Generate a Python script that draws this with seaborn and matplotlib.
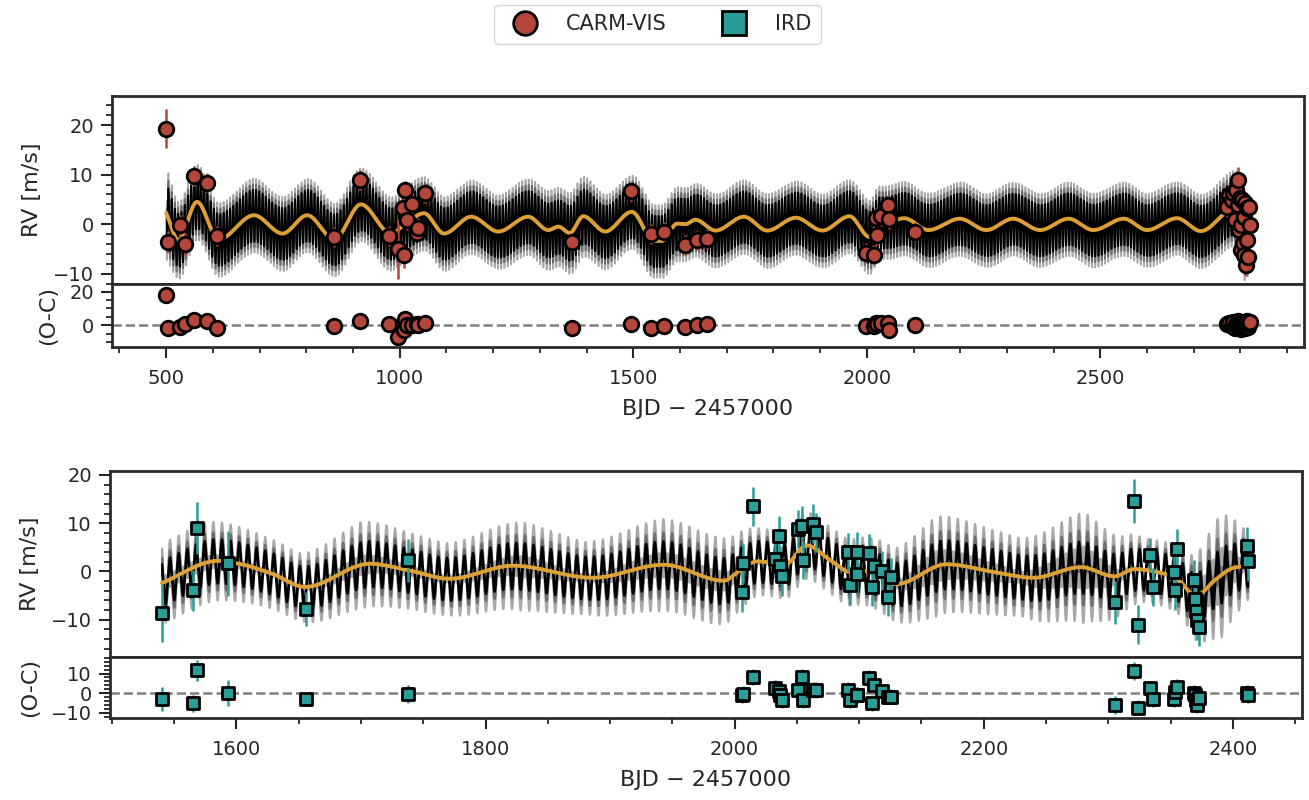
import numpy as np
import matplotlib
matplotlib.use("Agg")
import matplotlib.pyplot as plt
import seaborn as sns
from matplotlib.lines import Line2D
from matplotlib.ticker import MultipleLocator

carm_t = [500, 503, 529, 541, 559, 587, 609, 860, 915, 978, 997, 1006, 1010, 1012,
          1016, 1026, 1036, 1039, 1054, 1368, 1495, 1538, 1565, 1610, 1637, 1658,
          1998, 2016, 2020, 2021, 2030, 2045, 2048, 2104,
          2772, 2776, 2781, 2785, 2788, 2791, 2794, 2794, 2797, 2798, 2801, 2802,
          2804, 2805, 2807, 2808, 2810, 2811, 2813, 2815, 2816, 2818, 2820]
carm_rv = [19.3, -3.6, -0.2, -4.0, 9.7, 8.4, -2.4, -2.6, 8.9, -2.4, -5.0, 3.3, -6.3, 6.8,
           0.8, 4.0, -1.7, -0.7, 6.3, -3.7, 6.6, -2.0, -1.5, -4.2, -3.3, -3.0,
           -5.8, -6.2, 1.3, -2.2, 1.6, 3.8, 1.0, -1.5,
           3.5, 5.9, 4.8, 6.2, 0.8, 6.9, 9.0, 3.8, -1.2, 5.2, -0.2, -5.3,
           4.8, -3.9, 1.5, -6.3, 4.2, -8.3, -3.2, 3.2, -6.6, 3.5, -0.2]
carm_err = [4.0, 2.2, 2.0, 2.2, 2.0, 2.0, 2.0, 2.0, 2.0, 2.0, 6.0, 2.2, 2.5, 2.0,
            2.0, 2.0, 2.0, 2.0, 2.0, 1.8, 2.0, 2.0, 2.0, 2.0, 2.0, 2.0,
            2.0, 2.0, 2.0, 2.0, 2.0, 2.0, 2.0, 2.0,
            2.0, 2.2, 2.0, 2.0, 2.0, 2.0, 2.5, 2.0, 2.0, 2.0, 2.0, 2.0,
            2.0, 2.0, 2.0, 2.0, 2.0, 2.2, 2.0, 2.0, 2.0, 2.0, 2.0]
carm_res = [18.0, -1.8, -1.0, 1.0, 3.4, 2.6, -1.4, -0.6, 2.6, 1.0, -7.0, 1.0, -3.0, 4.0,
            0.0, 0.0, 1.0, 0.0, 1.4, -1.4, 1.0, -1.4, -0.6, -1.0, 0.4, 0.6,
            -0.6, -0.6, 1.4, 0.5, 1.4, 1.4, -3.0, 0.0,
            0.8, 1.5, -0.5, 2.0, -1.5, 1.0, 2.5, -1.0, 0.5, 0.0, -2.0, 1.5,
            1.2, -1.0, 2.2, 0.3, -1.8, -0.8, 1.7, 2.5, -1.2, 0.8, 2.0]

ird_t = [1540, 1565, 1568, 1593, 1656, 1738, 2005.7, 2007, 2015, 2032.5, 2036, 2036.5,
         2038, 2051, 2054, 2055, 2063, 2065, 2091, 2093, 2098, 2098.5, 2107.5, 2110,
         2111.5, 2118, 2123.5, 2125.5, 2305, 2321, 2324, 2333.5, 2336, 2353, 2353.5,
         2355, 2369, 2369.5, 2370, 2371.5, 2372.7, 2411, 2412]
ird_rv = [-8.6, -3.9, 9.0, 1.7, -7.7, 2.3, -4.3, 1.7, 13.5, 2.6, 7.4, 1.2,
          -1.0, 8.8, 9.5, 2.4, 9.9, 8.1, 4.0, -2.9, 4.1, -0.5, 3.8, -3.2,
          1.2, 0.2, -5.3, -1.2, -6.4, 14.6, -11.0, 3.5, -3.2, -0.1, -3.9,
          4.7, -1.7, -5.7, -8.1, -10.1, -11.5, 5.2, 2.1]
ird_err = [6.0, 4.3, 5.3, 6.7, 3.5, 4.5, 4.0, 4.0, 4.0, 4.0, 4.0, 4.0,
           4.0, 4.0, 4.0, 4.0, 4.0, 4.0, 4.0, 4.0, 4.0, 4.0, 4.0, 4.0,
           4.0, 4.0, 4.0, 4.0, 4.5, 4.5, 4.0, 3.5, 4.0, 4.0, 4.0,
           4.0, 4.0, 4.0, 4.0, 4.0, 4.0, 4.0, 4.0]
ird_res = [-3.0, -5.0, 11.7, 0.0, -2.7, -0.3, -0.9, -0.5, 8.1, 2.5, 0.9, -0.9,
           -3.4, 1.5, 8.1, -3.4, 1.7, 1.7, 1.7, -3.4, -0.9, -1.0, 7.6, -5.0,
           4.2, 0.9, -1.7, -1.7, -5.9, 11.2, -7.3, 2.5, -3.0, -3.0, 0.5,
           3.4, 0.3, -0.9, -3.4, -5.9, -2.5, 0.0, -1.0]

# ---------------- model ----------------
# GP (orange curve): values at its turning points
gp_top_t = [500, 526, 566, 612, 688, 749, 802, 860, 917, 981, 1017, 1052, 1095, 1153,
            1211, 1275, 1318, 1340, 1364, 1393, 1440, 1497, 1544, 1561, 1594, 1612,
            1633, 1676, 1737, 1787, 1848, 1905, 1963, 2006, 2025, 2045, 2080, 2132,
            2199, 2256, 2313, 2371, 2432, 2485, 2550, 2600, 2664, 2715, 2789, 2808, 2818]
gp_top_v = [2.3, -3.2, 4.5, -3.1, 1.8, -1.9, 1.8, -3.1, 4.0, -1.9, 0.5, 2.2, -1.9, 1.5,
            -1.5, 1.5, -1.2, -0.5, -1.8, 1.6, -1.5, 2.5, -3.4, -3.4, 0.1, 0.0,
            0.9, -1.3, 1.5, -1.3, 1.3, -1.3, 1.6, -2.6, 0.3, 0.4, 1.2, -1.2,
            1.1, -1.2, 1.1, -1.2, 1.1, -1.2, 1.1, -1.2, 1.2, -1.4, 3.3, -3.6, -1.9]
gp_bot_t = [1540, 1585, 1602, 1629, 1655, 1707, 1739, 1771, 1822, 1886, 1943, 1991,
            2007, 2018, 2030, 2040, 2058, 2077, 2093, 2103, 2114, 2130, 2170, 2208,
            2240, 2278, 2305, 2321, 2344, 2358, 2370, 2385, 2401, 2412]
gp_bot_v = [-2.4, 2.2, 1.6, -0.5, -3.2, 1.6, 0.2, -1.5, 1.2, -1.3, 1.4, -1.9,
            0.8, 2.1, 1.8, 1.4, 5.4, 2.3, -0.1, 0.2, -0.5, -2.6, 1.5, -0.1,
            -1.3, 0.9, -1.0, 0.5, -0.4, -2.2, -5.2, -1.9, 0.8, 1.2]

# short-period planet signal (black/grey bands)
planet_period = 6.95
planet_K = 3.5
planet_tpeak = 1824.3

# relative width of the posterior bands along time
band_top_t = [500, 520, 600, 1060, 1200, 1380, 1450, 1700, 1990, 2100, 2400, 2760, 2818]
band_top_u = [1.5, 1.1, 1.0, 1.0, 1.0, 1.2, 1.0, 1.0, 1.0, 1.0, 1.0, 1.0, 1.1]
band_bot_t = [1540, 1580, 1620, 1650, 1700, 1740, 1770, 1830, 1880, 1940, 1990, 2020,
              2050, 2100, 2130, 2160, 2230, 2280, 2310, 2330, 2360, 2390, 2412]
band_bot_u = [1.3, 1.26, 1.0, 0.92, 1.45, 1.15, 1.05, 1.5, 1.05, 1.6, 1.45, 0.9,
              0.9, 0.9, 1.1, 1.8, 1.2, 2.1, 1.2, 0.8, 0.9, 2.5, 0.9]

CARM_C = "#b4463a"
IRD_C = "#2a9d98"
GP_C = "#dda034"
BAND_COLORS = ["#a9a9a9", "#6e6e6e", "#000000"]


def pchip(xk, yk, xq):
    xk = np.asarray(xk, float)
    yk = np.asarray(yk, float)
    h = np.diff(xk)
    d = np.diff(yk) / h
    m = np.zeros_like(yk)
    m[0], m[-1] = d[0], d[-1]
    for k in range(1, len(xk) - 1):
        if d[k - 1] * d[k] > 0:
            w1 = 2 * h[k] + h[k - 1]
            w2 = h[k] + 2 * h[k - 1]
            m[k] = (w1 + w2) / (w1 / d[k - 1] + w2 / d[k])
    i = np.clip(np.searchsorted(xk, xq) - 1, 0, len(xk) - 2)
    s = (xq - xk[i]) / h[i]
    h00 = 2 * s**3 - 3 * s**2 + 1
    h10 = s**3 - 2 * s**2 + s
    h01 = -2 * s**3 + 3 * s**2
    h11 = s**3 - s**2
    return h00 * yk[i] + h10 * h[i] * m[i] + h01 * yk[i + 1] + h11 * h[i] * m[i + 1]


sns.set_theme(style="ticks", context="notebook")
plt.rcParams.update({
    "font.family": ["DejaVu Sans"],
    "axes.linewidth": 2.0,
    "axes.edgecolor": "#2b2b2b",
    "xtick.major.size": 8, "ytick.major.size": 8,
    "xtick.minor.size": 4.5, "ytick.minor.size": 4.5,
    "xtick.major.width": 1.5, "ytick.major.width": 1.5,
    "xtick.minor.width": 1.3, "ytick.minor.width": 1.3,
    "xtick.major.pad": 8, "ytick.major.pad": 5,
    "xtick.labelsize": 14, "ytick.labelsize": 14,
    "axes.labelsize": 16,
    "text.color": "#262626",
})

W, H = 1309, 800
fig = plt.figure(figsize=(W / 100, H / 100), dpi=100)
ax1 = fig.add_axes([112 / W, 1 - 284 / H, 1192 / W, 188 / H])
ax1r = fig.add_axes([112 / W, 1 - 347 / H, 1192 / W, 63 / H], sharex=ax1)
ax2 = fig.add_axes([110 / W, 1 - 657 / H, 1192 / W, 186 / H])
ax2r = fig.add_axes([110 / W, 1 - 718 / H, 1192 / W, 61 / H], sharex=ax2)


def draw_model(ax, gp_t, gp_v, u_t, u_v, layers, step, edge):
    tt = np.arange(gp_t[0], gp_t[-1] + step, step)
    g = pchip(gp_t, gp_v, tt)
    u = np.interp(tt, u_t, u_v)
    s = np.cos(2 * np.pi * (tt - planet_tpeak) / planet_period)
    c = g + planet_K * s
    for col, (a, b) in zip(BAND_COLORS, layers):
        hw = (a * np.abs(s) + b) * u
        ax.fill_between(tt, c - hw, c + hw, facecolor=col, edgecolor=col,
                        lw=edge, zorder=1)
    tg = np.linspace(gp_t[0], gp_t[-1], 3000)
    sns.lineplot(x=tg, y=pchip(gp_t, gp_v, tg), ax=ax, color=GP_C, lw=2.8,
                 zorder=3, legend=False)


def draw_points(ax, t, v, e, color, marker, size):
    ax.errorbar(t, v, yerr=e, fmt="none", ecolor=color, elinewidth=1.8,
                capsize=0, zorder=4)
    sns.scatterplot(x=t, y=v, ax=ax, color=color, marker=marker, s=size,
                    edgecolor="black", linewidth=2.0, zorder=5, legend=False)


draw_model(ax1, gp_top_t, gp_top_v, band_top_t, band_top_u,
           [(3.0, 1.0), (2.1, 0.8), (1.3, 0.5)], 0.5, 1.2)
draw_points(ax1, carm_t, carm_rv, carm_err, CARM_C, "o", 110)
draw_points(ax1r, carm_t, carm_res, carm_err, CARM_C, "o", 110)

draw_model(ax2, gp_bot_t, gp_bot_v, band_bot_t, band_bot_u,
           [(2.8, 1.0), (1.5, 0.6), (0.6, 0.35)], 0.2, 1.4)
draw_points(ax2, ird_t, ird_rv, ird_err, IRD_C, "s", 85)
draw_points(ax2r, ird_t, ird_res, ird_err, IRD_C, "s", 85)

for axr in (ax1r, ax2r):
    axr.axhline(0, color="grey", ls="--", lw=1.8, zorder=2)

ax1.set_xlim(384, 2936)
ax1.set_ylim(-12.1, 25.9)
ax1r.set_ylim(-13, 24.6)
ax2.set_xlim(1498.5, 2455.5)
ax2.set_ylim(-17.7, 20.8)
ax2r.set_ylim(-12.6, 18.4)

ax1.yaxis.set_major_locator(MultipleLocator(10))
ax1.yaxis.set_minor_locator(MultipleLocator(2))
ax1r.yaxis.set_major_locator(MultipleLocator(20))
ax1r.yaxis.set_minor_locator(MultipleLocator(5))
ax1r.xaxis.set_major_locator(MultipleLocator(500))
ax1r.xaxis.set_minor_locator(MultipleLocator(100))
ax2.yaxis.set_major_locator(MultipleLocator(10))
ax2.yaxis.set_minor_locator(MultipleLocator(2))
ax2r.yaxis.set_major_locator(MultipleLocator(10))
ax2r.yaxis.set_minor_locator(MultipleLocator(2))
ax2r.xaxis.set_major_locator(MultipleLocator(200))
ax2r.xaxis.set_minor_locator(MultipleLocator(50))

for ax in (ax1, ax2):
    ax.tick_params(axis="x", which="both", bottom=False, labelbottom=False)
    ax.set_ylabel("RV [m/s]", labelpad=8)
for axr in (ax1r, ax2r):
    axr.set_ylabel("(O-C)", labelpad=8)
    axr.set_xlabel("BJD \u2212 2457000", labelpad=8)

handles = [
    Line2D([], [], ls="none", marker="o", ms=17, mfc=CARM_C, mec="black", mew=2),
    Line2D([], [], ls="none", marker="s", ms=17, mfc=IRD_C, mec="black", mew=2),
]
fig.legend(handles, ["CARM-VIS", "IRD"], loc="upper center",
           bbox_to_anchor=(0.5025, 1.007), ncol=2, fontsize=15, frameon=True,
           handletextpad=1.0, columnspacing=2.2, borderpad=0.45,
           edgecolor="#cccccc", fancybox=True)

fig.savefig("out.png", dpi=100)
